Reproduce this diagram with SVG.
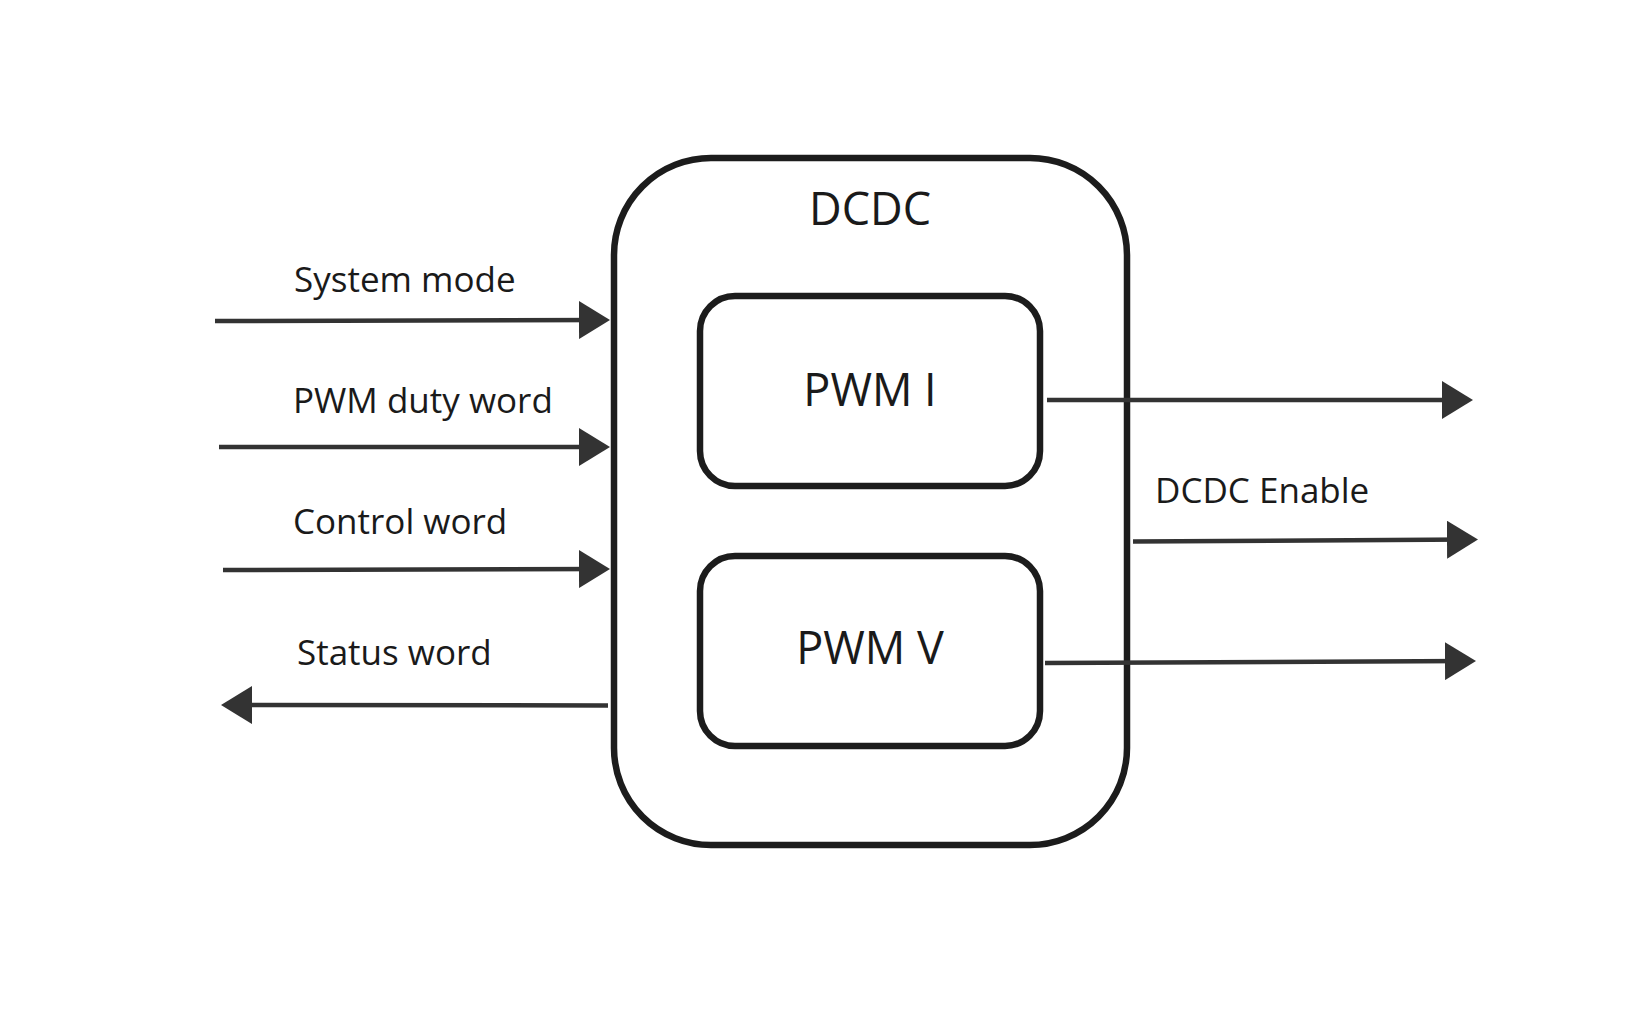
<svg xmlns="http://www.w3.org/2000/svg" width="1644" height="1036" viewBox="0 0 1644 1036">
<defs>
<marker id="ah" markerUnits="userSpaceOnUse" markerWidth="32" markerHeight="38" refX="23" refY="19" orient="auto">
<path d="M0,0 L31,19 L0,38 z" fill="#333333"/>
</marker>
</defs>
<style>
.box{fill:#ffffff;stroke:#1c1c1c;stroke-width:6.5}
.inner{fill:#ffffff;stroke:#1c1c1c;stroke-width:6.5}
.big{font-family:"Open Sans","Noto Sans",sans-serif;font-size:45px;fill:#1a1a1a;text-anchor:middle}
.lbl{font-family:"Open Sans","Noto Sans",sans-serif;font-size:35px;fill:#1a1a1a}
.con{stroke:#333333;stroke-width:4.5;fill:none;marker-end:url(#ah)}
</style>
<rect width="1644" height="1036" fill="#ffffff"/>
<g id="dcdc">
<rect class="box" x="614" y="158" width="513" height="687" rx="97" ry="97"/>
<text class="big" x="870" y="225">DCDC</text>
</g>
<g id="pwm-i">
<rect class="inner" x="700" y="296" width="340" height="190" rx="35" ry="35"/>
<text class="big" x="870" y="406">PWM I</text>
</g>
<g id="pwm-v">
<rect class="inner" x="700" y="556" width="340" height="190" rx="35" ry="35"/>
<text class="big" x="870" y="664">PWM V</text>
</g>
<g id="connectors">
<path class="con" d="M215,321 L602,320"/>
<path class="con" d="M219,447 L602,447"/>
<path class="con" d="M223,570 L602,569"/>
<path class="con" d="M608,705.5 L229,705"/>
<path class="con" d="M1047,400 L1465,400"/>
<path class="con" d="M1133,541.5 L1470,539.5"/>
<path class="con" d="M1045,663 L1468,661"/>
</g>
<g id="labels">
<text class="lbl" x="294" y="292">System mode</text>
<text class="lbl" x="293" y="413">PWM duty word</text>
<text class="lbl" x="293" y="534">Control word</text>
<text class="lbl" x="297" y="665">Status word</text>
<text class="lbl" x="1155" y="503">DCDC Enable</text>
</g>
</svg>
